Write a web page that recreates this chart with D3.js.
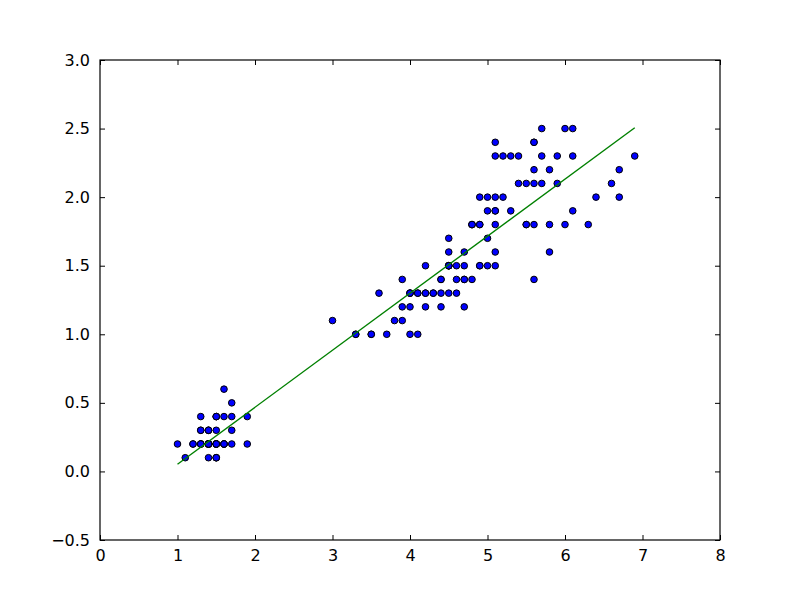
<!DOCTYPE html>
<html>
<head>
<meta charset="utf-8">
<script src="https://cdn.jsdelivr.net/npm/d3@7"></script>
<style>
  body { margin: 0; background: #fff; }
  svg { display: block; }
  text { font-family: "DejaVu Sans", sans-serif; }
</style>
</head>
<body>
<script>
// petal length (x) and petal width (y) (iris set)
var petalLength = [
  1.4,1.4,1.3,1.5,1.4,1.7,1.4,1.5,1.4,1.5,1.5,1.6,1.4,1.1,1.2,1.5,1.3,1.4,1.7,1.5,
  1.7,1.5,1.0,1.7,1.9,1.6,1.6,1.5,1.4,1.6,1.6,1.5,1.5,1.4,1.5,1.2,1.3,1.5,1.3,1.5,
  1.3,1.3,1.3,1.6,1.9,1.4,1.6,1.4,1.5,1.4,
  4.7,4.5,4.9,4.0,4.6,4.5,4.7,3.3,4.6,3.9,3.5,4.2,4.0,4.7,3.6,4.4,4.5,4.1,4.5,3.9,
  4.8,4.0,4.9,4.7,4.3,4.4,4.8,5.0,4.5,3.5,3.8,3.7,3.9,5.1,4.5,4.5,4.7,4.4,4.1,4.0,
  4.4,4.6,4.0,3.3,4.2,4.2,4.2,4.3,3.0,4.1,
  6.0,5.1,5.9,5.6,5.8,6.6,4.5,6.3,5.8,6.1,5.1,5.3,5.5,5.0,5.1,5.3,5.5,6.7,6.9,5.0,
  5.7,4.9,6.7,4.9,5.7,6.0,4.8,4.9,5.6,5.8,6.1,6.4,5.6,5.1,5.6,6.1,5.6,5.5,4.8,5.4,
  5.6,5.1,5.1,5.9,5.7,5.2,5.0,5.2,5.4,5.1
];
var petalWidth = [
  0.2,0.2,0.2,0.2,0.2,0.4,0.3,0.2,0.2,0.1,0.2,0.2,0.1,0.1,0.2,0.4,0.4,0.3,0.3,0.3,
  0.2,0.4,0.2,0.5,0.2,0.2,0.4,0.2,0.2,0.2,0.2,0.4,0.1,0.2,0.2,0.2,0.2,0.1,0.2,0.2,
  0.3,0.3,0.2,0.6,0.4,0.3,0.2,0.2,0.2,0.2,
  1.4,1.5,1.5,1.3,1.5,1.3,1.6,1.0,1.3,1.4,1.0,1.5,1.0,1.4,1.3,1.4,1.5,1.0,1.5,1.1,
  1.8,1.3,1.5,1.2,1.3,1.4,1.4,1.7,1.5,1.0,1.1,1.0,1.2,1.6,1.5,1.6,1.5,1.3,1.3,1.3,
  1.2,1.4,1.2,1.0,1.3,1.2,1.3,1.3,1.1,1.3,
  2.5,1.9,2.1,1.8,2.2,2.1,1.7,1.8,1.8,2.5,2.0,1.9,2.1,2.0,2.4,2.3,1.8,2.2,2.3,1.5,
  2.3,2.0,2.0,1.8,2.1,1.8,1.8,1.8,2.1,1.6,1.9,2.0,2.2,1.5,1.4,2.3,2.4,1.8,1.8,2.1,
  2.4,2.3,1.9,2.3,2.5,2.3,1.9,2.0,2.3,1.8
];
var xTicks = [0, 1, 2, 3, 4, 5, 6, 7, 8];
var yTicks = [-0.5, 0.0, 0.5, 1.0, 1.5, 2.0, 2.5, 3.0];

var outerWidth = 800;
var outerHeight = 600;
var margin = { top: 60, right: 80, bottom: 60, left: 100 };
var width = outerWidth - margin.left - margin.right;
var height = outerHeight - margin.top - margin.bottom;

var data = petalLength.map(function (x, i) {
  return { x: x, y: petalWidth[i] };
});

// least squares fit of width on length
var mx = d3.mean(data, (d) => d.x);
var my = d3.mean(data, (d) => d.y);
var slope = d3.sum(data, (d) => (d.x - mx) * (d.y - my)) /
  d3.sum(data, (d) => (d.x - mx) * (d.x - mx));
var intercept = my - slope * mx;
var fitData = d3.extent(data, (d) => d.x).map(function (x) {
  return { x: x, y: intercept + slope * x };
});

var svg = d3
  .select("body")
  .append("svg")
  .attr("width", outerWidth)
  .attr("height", outerHeight);

var xScale = d3.scaleLinear().domain([0, 8]).range([0, width]);
var yScale = d3.scaleLinear().domain([-0.5, 3.0]).range([height, 0]);

var g = svg
  .append("g")
  .attr("transform", "translate(" + margin.left + "," + margin.top + ")");

// points
g.selectAll(".dot")
  .data(data)
  .enter()
  .append("circle")
  .attr("class", "dot")
  .attr("cx", (d) => xScale(d.x))
  .attr("cy", (d) => yScale(d.y))
  .attr("r", 3.3)
  .attr("fill", "#0000ff")
  .attr("stroke", "#000")
  .attr("stroke-width", 1);

// fit line
var line = d3
  .line()
  .x((d) => xScale(d.x))
  .y((d) => yScale(d.y));

g.append("path")
  .attr("d", line(fitData))
  .attr("fill", "none")
  .attr("stroke", "#008000")
  .attr("stroke-width", 1.4);

// axes, ticks pointing inward, mirrored on top and right
var tickLen = 5;
var xAxis = d3.axisBottom(xScale).tickValues(xTicks).tickFormat(d3.format("d"))
  .tickSizeInner(-tickLen).tickSizeOuter(0).tickPadding(10);
var yAxis = d3.axisLeft(yScale).tickValues(yTicks).tickFormat(d3.format(".1f"))
  .tickSizeInner(-tickLen).tickSizeOuter(0).tickPadding(10);
var xAxisTop = d3.axisTop(xScale).tickValues(xTicks).tickFormat("")
  .tickSizeInner(-tickLen).tickSizeOuter(0);
var yAxisRight = d3.axisRight(yScale).tickValues(yTicks).tickFormat("")
  .tickSizeInner(-tickLen).tickSizeOuter(0);

function styleAxis(sel) {
  sel.select(".domain").remove();
  sel.selectAll(".tick line").attr("stroke", "#000");
  sel.selectAll(".tick text")
    .attr("fill", "#000")
    .attr("font-size", 16)
    .attr("font-family", "DejaVu Sans, sans-serif");
}

g.append("g").attr("transform", "translate(0," + height + ")").call(xAxis).call(styleAxis);
g.append("g").call(yAxis).call(styleAxis);
g.append("g").call(xAxisTop).call(styleAxis);
g.append("g").attr("transform", "translate(" + width + ",0)").call(yAxisRight).call(styleAxis);

// frame
g.append("rect")
  .attr("x", 0)
  .attr("y", 0)
  .attr("width", width)
  .attr("height", height)
  .attr("fill", "none")
  .attr("stroke", "#000")
  .attr("stroke-width", 1.2);
</script>
</body>
</html>
